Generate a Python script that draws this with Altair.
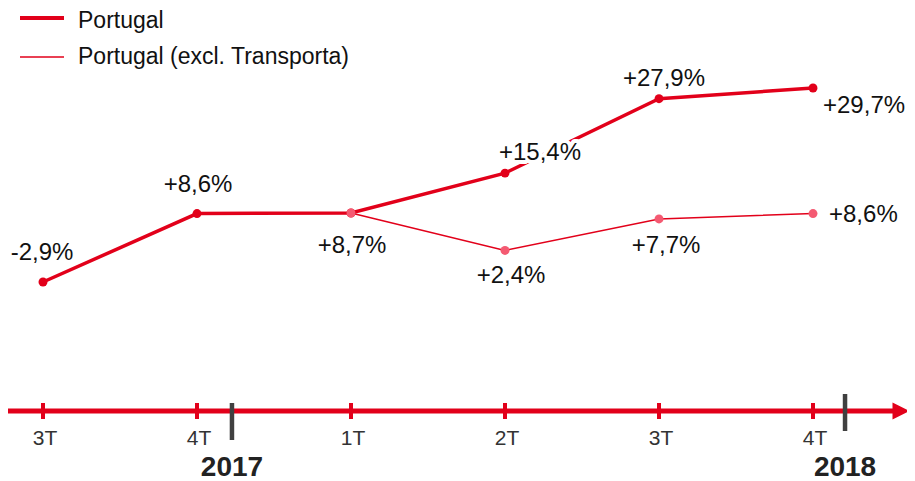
import altair as alt
import pandas as pd

# ---- data ----
quarters = ["3T", "4T", "1T", "2T", "3T", "4T"]
years = ["2017", "2018"]
portugal = [-2.9, 8.6, 8.7, 15.4, 27.9, 29.7]
portugal_excl = [None, None, 8.7, 2.4, 7.7, 8.6]
series_names = ["Portugal", "Portugal (excl. Transporta)"]


def fmt(v):
    return f"{v:+.1f}%".replace(".", ",")


rows = []
for i, (q, a, b) in enumerate(zip(quarters, portugal, portugal_excl)):
    rows.append(dict(idx=i, q=q, series=series_names[0], value=a, label=fmt(a)))
    if b is not None:
        rows.append(dict(idx=i, q=q, series=series_names[1], value=b, label=fmt(b)))
df = pd.DataFrame(rows)
df_q = pd.DataFrame({"idx": list(range(len(quarters))), "q": quarters})
one = pd.DataFrame({"a": [0]})

RED = "#E2001A"
PINK = "#F45A72"
FONT = "Liberation Sans"

xs = alt.Scale(domain=[0, 5], range=[35, 805], nice=False, zero=False)
ys = alt.Scale(domain=[-2.9, 29.7], range=[274, 80], nice=False, zero=False)

X = alt.X("idx:Q", scale=xs, axis=None)
Y = alt.Y("value:Q", scale=ys, axis=None)

base = alt.Chart(df)
main = base.transform_filter(alt.datum.series == series_names[0])
excl = base.transform_filter(alt.datum.series == series_names[1])

layers = [
    main.mark_line(color=RED, strokeWidth=3.5).encode(x=X, y=Y),
    excl.mark_line(color=RED, strokeWidth=1.5).encode(x=X, y=Y),
    main.mark_circle(color=RED, size=80, opacity=1).encode(x=X, y=Y),
    excl.mark_circle(color=PINK, size=80, opacity=1).encode(x=X, y=Y),
]

# label placements (dx, dy, align) per series / quarter index
place = {
    (0, 0): (-1, -29, "center"),
    (0, 1): (1, -29, "center"),
    (0, 2): (1, 33, "center"),
    (0, 3): (35, -20, "center"),
    (0, 4): (5, -20, "center"),
    (0, 5): (10, 18, "left"),
    (1, 3): (6, 26, "center"),
    (1, 4): (7, 27, "center"),
    (1, 5): (16, 1, "left"),
}
halos, texts = [], []
for (s, i), (dx, dy, al) in place.items():
    sub = base.transform_filter(
        (alt.datum.series == series_names[s]) & (alt.datum.idx == i)
    )
    halos.append(
        sub.mark_text(font=FONT, fontSize=24, color="white", stroke="white",
                      strokeWidth=8, strokeJoin="round", align=al,
                      baseline="middle", dx=dx, dy=dy).encode(x=X, y=Y, text="label:N")
    )
    texts.append(
        sub.mark_text(font=FONT, fontSize=24, color="#111111", align=al,
                      baseline="middle", dx=dx, dy=dy).encode(x=X, y=Y, text="label:N")
    )
layers += halos + texts

# ---- time axis ----
AXY = 403
layers.append(
    alt.Chart(one).mark_rule(color=RED, strokeWidth=5).encode(
        x=alt.value(0), x2=alt.value(887), y=alt.value(AXY))
)
layers.append(
    alt.Chart(one).mark_point(shape="M-1,-1L1,0L-1,1Z", filled=True, color=RED,
                              opacity=1, size=289).encode(
        x=alt.value(893), y=alt.value(AXY))
)
layers.append(
    alt.Chart(df_q).mark_rule(color=RED, strokeWidth=4).encode(
        x=alt.X("idx:Q", scale=xs, axis=None), y=alt.value(395), y2=alt.value(411))
)
layers.append(
    alt.Chart(df_q).mark_text(font=FONT, fontSize=21, color="#333333",
                              baseline="middle", dx=2).encode(
        x=alt.X("idx:Q", scale=xs, axis=None), y=alt.value(431), text="q:N")
)
year_pos = [(years[0], 1.227, 395, 432), (years[1], 5.208, 386, 423)]
for yr, p, y1, y2 in year_pos:
    layers.append(
        alt.Chart(one).mark_rule(color="#404040", strokeWidth=4.5).encode(
            x=alt.XDatum(p, type="quantitative", scale=xs, axis=None),
            y=alt.value(y1), y2=alt.value(y2))
    )
    layers.append(
        alt.Chart(one).mark_text(font=FONT, fontSize=28, fontWeight="bold",
                                 color="#222222", baseline="middle").encode(
            x=alt.XDatum(p, type="quantitative", scale=xs, axis=None),
            y=alt.value(460), text=alt.value(yr))
    )

# ---- legend ----
leg = [(series_names[0], 10, 4), (series_names[1], 49, 1.5)]
for name, ly, sw in leg:
    layers.append(
        alt.Chart(one).mark_rule(color=RED, strokeWidth=sw).encode(
            x=alt.value(12), x2=alt.value(56), y=alt.value(ly))
    )
    layers.append(
        alt.Chart(one).mark_text(font=FONT, fontSize=23, color="#111111",
                                 align="left", baseline="middle").encode(
            x=alt.value(70), y=alt.value(max(ly, 13)), text=alt.value(name))
    )

chart = alt.layer(*layers).properties(
    width=899, height=473, padding=0,
    autosize=alt.AutoSizeParams(type="none"),
).configure_view(stroke=None)

chart.save("out.html", embed_options={"renderer": "svg", "actions": False})
